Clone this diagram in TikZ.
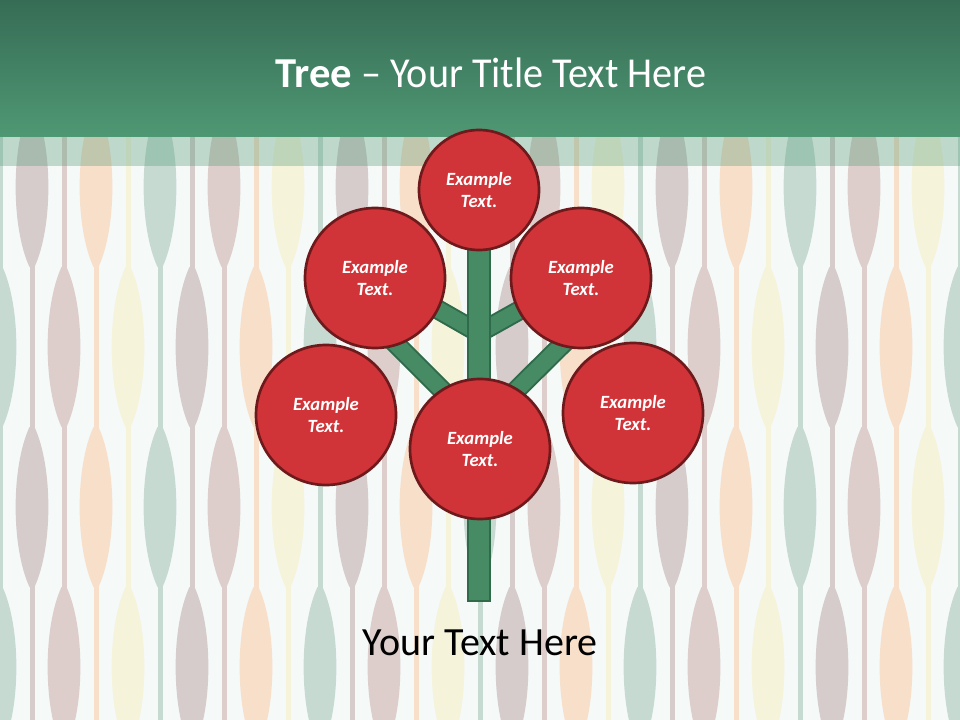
\documentclass[tikz,border=0pt]{standalone}
\usepackage{fontspec}
\setmainfont{Carlito}
\newfontfamily\narrowfont[FakeStretch=0.94]{Carlito}
\definecolor{bgc}{HTML}{F5F9F8}
\definecolor{pcA}{HTML}{C6DAD2}
\definecolor{pcB}{HTML}{D6CCCC}
\definecolor{pcC}{HTML}{DDCECB}
\definecolor{pcD}{HTML}{F8DFCA}
\definecolor{pcE}{HTML}{F6F3DB}
\definecolor{hdTop}{HTML}{366C55}
\definecolor{hdBot}{HTML}{4F9874}
\definecolor{ballred}{HTML}{D03438}
\definecolor{balledge}{HTML}{6E1A1C}
\definecolor{trunkfill}{HTML}{468B64}
\definecolor{trunkedge}{HTML}{2F6B4B}
\tikzset{
  ball/.style={circle, fill=ballred, draw=balledge, line width=2pt, minimum size=105pt, inner sep=0pt,
    text=white, align=center, font=\fontsize{14}{16.8}\selectfont\bfseries\itshape},
  smallball/.style={ball, minimum size=90pt},
  branchout/.style={draw=trunkedge, line width=15pt},
  branchin/.style={draw=trunkfill, line width=12pt},
  trunkbox/.style={draw=trunkedge, fill=trunkfill, line width=1.5pt, minimum width=16.5pt, minimum height=266pt, inner sep=0pt, anchor=north},
}
\begin{document}
\begin{tikzpicture}[x=0.75pt,y=-0.75pt]
\useasboundingbox (0,0) rectangle (960,720);
\fill[bgc] (0,0) rectangle (960,720);
% background pattern
\foreach \k in {0,...,30} {
  \pgfmathtruncatemacro\ci{mod(\k,5)}
  \ifcase\ci \def\cc{pcA}\or \def\cc{pcB}\or \def\cc{pcC}\or \def\cc{pcD}\else \def\cc{pcE}\fi
  \pgfmathsetmacro\xx{32*\k}
  \pgfmathtruncatemacro\ph{mod(\k,2)}
  \pgfmathsetmacro\ys{\ph==1 ? -213 : -53}
  \fill[color=\cc] (\xx-2.5,0) rectangle (\xx+2.5,720);
  \foreach \m in {0,1,2} {
    \pgfmathsetmacro\ya{\ys+320*\m}
    \pgfmathsetmacro\yb{\ya+160}
    \fill[color=\cc] (\xx-2.5,\ya) .. controls (\xx-21,\ya+40) and (\xx-21,\yb-40) .. (\xx-2.5,\yb)
      -- (\xx+2.5,\yb) .. controls (\xx+21,\yb-40) and (\xx+21,\ya+40) .. (\xx+2.5,\ya) -- cycle;
  }
}
% header
\shade[top color=hdTop, bottom color=hdBot] (0,0) rectangle (960,137);
\fill[hdBot, opacity=0.33] (0,137) rectangle (960,166);
\node[anchor=base, text=white, font=\fontsize{32}{38}\selectfont, inner sep=0pt] (title) at (491,88) {\textbf{Tree}{\narrowfont{} – Your Title Text Here}};
% branches
\coordinate (upStart) at (479,333);
\coordinate (lowStart) at (479,427);
\coordinate (ulEnd) at (430,305);
\coordinate (urEnd) at (529,305);
\coordinate (llEnd) at (385,333);
\coordinate (lrEnd) at (574,333);
\foreach \e in {ulEnd,urEnd} {
  \draw[branchout] (upStart) -- (\e);
  \draw[branchin] (upStart) -- (\e);
}
\foreach \e in {llEnd,lrEnd} {
  \draw[branchout] (lowStart) -- (\e);
  \draw[branchin] (lowStart) -- (\e);
}
% trunk
\node[trunkbox] (trunk) at (479,245) {};
% circles
\node[smallball] (top) at (479,190) {Example\\Text.};
\node[ball] (ul) at (375,278) {Example\\Text.};
\node[ball] (ur) at (581,278) {Example\\Text.};
\node[ball] (ml) at (326,415) {Example\\Text.};
\node[ball] (mr) at (633,413) {Example\\Text.};
\node[ball] (mc) at (480,449) {Example\\Text.};
% caption
\node[anchor=base, text=black, font=\fontsize{30}{36}\selectfont, inner sep=0pt] (caption) at (480,655) {Your Text Here};
\end{tikzpicture}
\end{document}
